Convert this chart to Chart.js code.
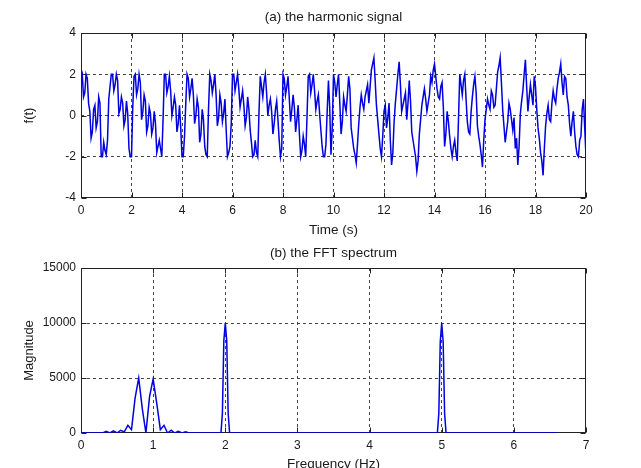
<!DOCTYPE html>
<html>
<head>
<meta charset="utf-8">
<script src="https://cdn.jsdelivr.net/npm/chart.js@4.4.1/dist/chart.umd.min.js"></script>
<style>
  html, body { margin: 0; padding: 0; background: #fff; overflow: hidden; width: 641px; height: 468px; }
  canvas { position: absolute; left: 0; }
  #topChart { top: 0; }
  #bottomChart { top: 240px; }
</style>
</head>
<body>
<canvas id="topChart" width="641" height="240"></canvas>
<canvas id="bottomChart" width="641" height="232"></canvas>
<script>
// (a) signal, one value every 0.05 s from 0 to 20 s
const timeStep = 0.05;
const signalValues = [
  1.8, 2.0, 0.9, 1.1, 2.0, 1.8, 0.6, 0.2, -1.1, -0.8, 0.3, 0.5, -0.6, -0.3, 0.9, 0.6, -2.0, -2.0, -1.3, -1.7,
  -1.9, -1.2, 0.8, 1.4, 2.0, 2.0, 1.2, 1.5, 2.0, 1.7, 0.1, 0.3, 0.9, 0.6, -0.5, -0.2, 0.7, 0.1, -1.6, -2.0,
  -2.0, 0.4, 1.9, 2.0, 1.0, 1.3, 2.0, 1.6, -0.2, 0.2, 1.0, 0.7, -0.8, -0.5, 0.4, 0.1, -0.9, -0.6, 0.2, -0.4,
  -1.8, -1.5, -1.2, -1.6, -2.0, -0.2, 2.0, 2.0, 1.1, 1.4, 1.9, 1.2, 0.0, 0.4, 0.9, 0.5, -0.8, -0.4, 0.5, -0.6,
  -2.0, -2.0, -1.0, 0.6, 2.0, 1.8, 0.9, 1.3, 1.8, 1.0, -0.4, 0.0, 0.8, 0.4, -1.3, -0.9, 0.3, -0.2, -1.5, -1.9,
  -2.0, 0.3, 2.0, 1.7, 1.1, 1.5, 2.0, 1.0, -0.5, -0.1, 1.0, 0.6, -0.3, 0.1, 0.8, -0.7, -2.0, -1.8, -1.5, -0.4,
  2.0, 2.0, 1.2, 1.6, 2.0, 1.3, 0.4, 0.8, 1.2, 0.5, -0.5, -0.1, 0.9, 0.3, -0.7, -1.3, -2.0, -1.9, -1.2, -1.8,
  -2.0, 0.2, 1.9, 1.4, 0.9, 1.6, 2.0, 1.1, 0.0, 0.5, 0.8, 0.2, -0.9, -0.4, 0.3, 0.7, -0.2, -1.2, -2.0, -1.6,
  2.0, 1.8, 1.0, 1.4, 1.9, 0.8, -0.3, 0.3, 1.0, 0.4, -0.8, -0.2, 0.5, -0.9, -2.0, -1.7, -1.0, -1.4, -2.0, -0.1,
  1.9, 2.0, 1.1, 1.5, 2.0, 1.2, 0.3, 0.7, 1.0, 0.1, -0.7, -1.5, -2.0, -2.0, -1.4, 0.2, 1.7, 0.4, -1.9, -0.6,
  2.0, 1.6, 0.9, 1.5, 2.0, 0.6, -0.9, -0.3, 0.9, 0.5, 0.2, 1.0, 1.9, 1.3, -0.6, -1.1, -1.6, -1.9, -2.3, -1.4,
  -0.4, 0.4, 1.0, 0.6, 0.3, 0.9, 1.2, 1.5, 0.6, 1.4, 2.2, 2.5, 2.8, 1.7, 0.5, -0.2, -0.9, -1.6, -2.0, -1.0,
  0.2, 0.5, -0.6, -0.1, 0.6, -1.2, -2.4, -1.8, -0.3, 0.6, 1.3, 2.0, 2.6, 1.5, 0.2, 0.5, 0.8, 1.1, -0.2, 0.6,
  1.7, 0.7, -0.8, -1.2, -1.6, -2.0, -2.7, -2.2, -0.9, -0.2, 0.5, 0.9, 1.3, 0.8, 0.2, 0.6, 1.0, 1.9, 1.6, 2.2,
  2.5, 1.9, 1.3, 0.9, 0.8, 1.4, 1.6, 0.4, -1.5, -0.9, 0.2, -0.3, -1.0, -1.6, -2.0, -1.5, -1.2, -1.8, -2.2, -0.2,
  2.0, 1.5, 1.0, 1.7, 2.0, 0.8, -0.3, -0.8, -0.9, 0.2, 0.9, 1.5, 1.9, 1.1, -0.5, -1.0, -1.4, -1.9, -2.5, -1.2,
  -0.2, 0.3, 0.8, 0.5, 0.3, 1.2, 1.0, 0.4, 0.5, 1.3, 2.1, 2.4, 2.8, 1.6, 0.3, -0.5, -1.3, -0.8, -0.3, 0.6,
  0.3, -0.2, -0.7, -0.1, -1.6, -1.1, -2.4, -1.5, 0.1, 0.7, 1.2, 2.0, 2.7, 1.4, 0.2, 0.9, 1.5, 1.0, 0.5, 1.9,
  1.4, 0.3, -0.6, -1.1, -1.8, -2.2, -2.9, -1.6, -0.5, 0.1, 0.5, -0.2, -0.3, 0.6, 1.2, 0.8, 0.6, 1.3, 1.8, 2.1,
  2.5, 1.6, 1.0, 1.9, 1.8, 0.9, 0.5, -0.4, -1.0, -0.3, 0.2, -0.8, -1.5, -1.9, -2.0, -1.2, -1.0, 0.3, 0.8, -0.6,
  -2.0
];

// (b) spectrum
const freqHz = [
  0, 0.3, 0.35, 0.4, 0.45, 0.5, 0.55, 0.6, 0.65, 0.7, 0.75, 0.8, 0.85, 0.9, 0.95,
  1.0, 1.05, 1.1, 1.15, 1.2, 1.25, 1.3, 1.35, 1.4, 1.45, 1.5,
  1.94, 1.96, 1.98, 2.0, 2.02, 2.04, 2.06,
  4.94, 4.96, 4.98, 5.0, 5.02, 5.04, 5.06,
  6.6
];
const magnitude = [
  0, 0, 150, 0, 200, 0, 250, 100, 700, 300, 3200, 5000, 2200, 0, 3300,
  4900, 2700, 300, 700, 0, 250, 0, 150, 0, 100, 0,
  0, 1800, 8400, 10000, 8400, 1800, 0,
  0, 1800, 8300, 10000, 8300, 1800, 0,
  0
];

const FONT = "'Liberation Sans', Arial, sans-serif";
const TEXT = "#1a1a1a";
const LINE = "#0000e0";

// matlab style box with inward tick marks
const boxPlugin = {
  id: "box",
  beforeDatasetsDraw(chart) {
    const { ctx, chartArea: a, scales } = chart;
    const L = Math.round(a.left) + 0.5, R = Math.round(a.right) - 0.5;
    const T = Math.round(a.top) + 0.5, B = Math.round(a.bottom) - 0.5;
    ctx.save();
    ctx.strokeStyle = "#222";
    ctx.lineWidth = 1;
    ctx.setLineDash([]);
    ctx.strokeRect(L, T, R - L, B - T);
    const len = 5;
    ctx.beginPath();
    scales.x.ticks.forEach(t => {
      const px = Math.round(scales.x.getPixelForValue(t.value)) + 0.5;
      ctx.moveTo(px, B); ctx.lineTo(px, B - len);
      ctx.moveTo(px, T); ctx.lineTo(px, T + len);
    });
    scales.y.ticks.forEach(t => {
      const py = Math.round(scales.y.getPixelForValue(t.value)) + 0.5;
      ctx.moveTo(L, py); ctx.lineTo(L + len, py);
      ctx.moveTo(R, py); ctx.lineTo(R - len, py);
    });
    ctx.stroke();
    ctx.restore();
  }
};

// title centred over the plot box, like matlab
const plotTitle = {
  id: "plotTitle",
  afterDraw(chart, args, opts) {
    const { ctx, chartArea: a } = chart;
    ctx.save();
    ctx.font = "13.5px " + FONT;
    ctx.fillStyle = TEXT;
    ctx.textAlign = "center";
    ctx.textBaseline = "middle";
    ctx.fillText(opts.text, (a.left + a.right) / 2, opts.y);
    ctx.restore();
  }
};

function gridColor(c) {
  const n = c.scale.ticks.length;
  return (c.index === 0 || c.index === n - 1) ? "rgba(0,0,0,0)" : "#444";
}

function makeOptions(o) {
  return {
    animation: false,
    responsive: false,
    maintainAspectRatio: false,
    devicePixelRatio: 1,
    layout: { padding: { left: 0, right: 55, top: o.top, bottom: 0 } },
    plugins: {
      legend: { display: false },
      tooltip: { enabled: false },
      title: { display: false },
      plotTitle: { text: o.title, y: o.titleY }
    },
    scales: {
      x: {
        type: "linear",
        min: o.xMin, max: o.xMax,
        afterFit: s => { s.height = o.xHeight; },
        afterBuildTicks: s => { s.ticks = o.xTicks.map(v => ({ value: v })); },
        ticks: { color: TEXT, font: { family: FONT, size: 12 }, padding: 5, maxRotation: 0, callback: v => String(v) },
        grid: { color: gridColor, drawTicks: false, lineWidth: 1 },
        border: { display: false, dash: [3, 3] },
        title: {
          display: true, text: o.xTitle, color: TEXT,
          font: { family: FONT, size: 13.5, lineHeight: 1.2 },
          padding: { top: 0, bottom: o.xTitlePad }
        }
      },
      y: {
        min: o.yMin, max: o.yMax,
        afterFit: s => { s.width = 81; },
        afterBuildTicks: s => { s.ticks = o.yTicks.map(v => ({ value: v })); },
        ticks: { color: TEXT, font: { family: FONT, size: 12 }, padding: 5, callback: v => String(v) },
        grid: { color: gridColor, drawTicks: false, lineWidth: 1 },
        border: { display: false, dash: [3, 3] },
        title: {
          display: true, text: o.yTitle, color: TEXT,
          font: { family: FONT, size: 13, lineHeight: 1.2 },
          padding: { top: 22, bottom: 0 }
        }
      }
    }
  };
}

new Chart(document.getElementById("topChart"), {
  type: "line",
  data: {
    datasets: [{
      data: signalValues.map((v, i) => ({ x: i * timeStep, y: v })),
      borderColor: LINE,
      borderWidth: 1.5,
      pointRadius: 0,
      tension: 0
    }]
  },
  options: makeOptions({
    title: "(a) the harmonic signal", titleY: 17, top: 33,
    xMin: 0, xMax: 20, xTicks: [0, 2, 4, 6, 8, 10, 12, 14, 16, 18, 20],
    yMin: -4, yMax: 4, yTicks: [-4, -2, 0, 2, 4],
    xHeight: 42, xTitle: "Time (s)", xTitlePad: 2,
    yTitle: "f(t)"
  }),
  plugins: [boxPlugin, plotTitle]
});

new Chart(document.getElementById("bottomChart"), {
  type: "line",
  data: {
    datasets: [{
      data: freqHz.map((f, i) => ({ x: f, y: magnitude[i] })),
      borderColor: LINE,
      borderWidth: 1.5,
      pointRadius: 0,
      tension: 0
    }]
  },
  options: makeOptions({
    title: "(b) the FFT spectrum", titleY: 13, top: 28,
    xMin: 0, xMax: 7, xTicks: [0, 1, 2, 3, 4, 5, 6, 7],
    yMin: 0, yMax: 15000, yTicks: [0, 5000, 10000, 15000],
    xHeight: 39, xTitle: "Frequency (Hz)", xTitlePad: 0,
    yTitle: "Magnitude"
  }),
  plugins: [boxPlugin, plotTitle]
});
</script>
</body>
</html>
